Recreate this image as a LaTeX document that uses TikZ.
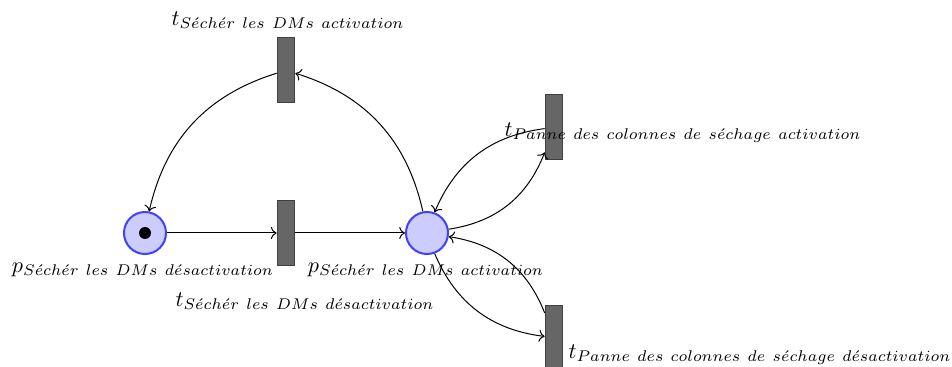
\documentclass[tikz,border=0pt]{standalone}
\usetikzlibrary{arrows.meta}
\begin{document}
\def\pxs{0.452pt}
\begin{tikzpicture}[x=\pxs, y=-\pxs,
  place/.style={circle, draw=blue!75, fill=blue!20, line width={2*\pxs}, minimum size={42*\pxs}, inner sep=0pt},
  transition/.style={rectangle, draw=black!75, fill=black!60, line width={1.6*\pxs}, minimum width={17*\pxs}, minimum height={65*\pxs}, inner sep=0pt},
  token/.style={circle, fill=black, minimum size={12*\pxs}, inner sep=0pt},
  arc/.style={->, line width={1*\pxs}},
  lbl/.style={inner sep=0pt}]
\useasboundingbox (0,0) rectangle (952,367);
\node[place] (p1) at (145,233) {};
\node[token] (tok) at (p1) {};
\node[place] (p2) at (427,233) {};
\node[transition] (ttop) at (286,70) {};
\node[transition] (tmid) at (286,233) {};
\node[transition] (trt) at (554,127) {};
\node[transition] (trb) at (554,338) {};
\draw[arc] (ttop) to[bend right=30] (p1);
\draw[arc] (p1) -- (tmid);
\draw[arc] (tmid) -- (p2);
\draw[arc] (p2) to[bend right=30] (ttop);
\draw[arc] (p2) to[bend right=30] (trt);
\draw[arc] (trt) to[bend right=30] (p2);
\draw[arc] (p2) to[bend right=30] (trb);
\draw[arc] (trb) to[bend right=30] (p2);
\node[lbl] (lttop) at (288,20) {$t_{S\acute{e}ch\acute{e}r\ les\ DMs\ activation}$};
\node[lbl] (lp1) at (143,270) {$p_{S\acute{e}ch\acute{e}r\ les\ DMs\ d\acute{e}sactivation}$};
\node[lbl] (lp2) at (426,270) {$p_{S\acute{e}ch\acute{e}r\ les\ DMs\ activation}$};
\node[lbl] (ltmid) at (305,301) {$t_{S\acute{e}ch\acute{e}r\ les\ DMs\ d\acute{e}sactivation}$};
\node[lbl] (ltrt) at (683,133) {$t_{Panne\ des\ colonnes\ de\ s\acute{e}chage\ activation}$};
\node[lbl] (ltrb) at (760,355) {$t_{Panne\ des\ colonnes\ de\ s\acute{e}chage\ d\acute{e}sactivation}$};
\end{tikzpicture}
\end{document}
